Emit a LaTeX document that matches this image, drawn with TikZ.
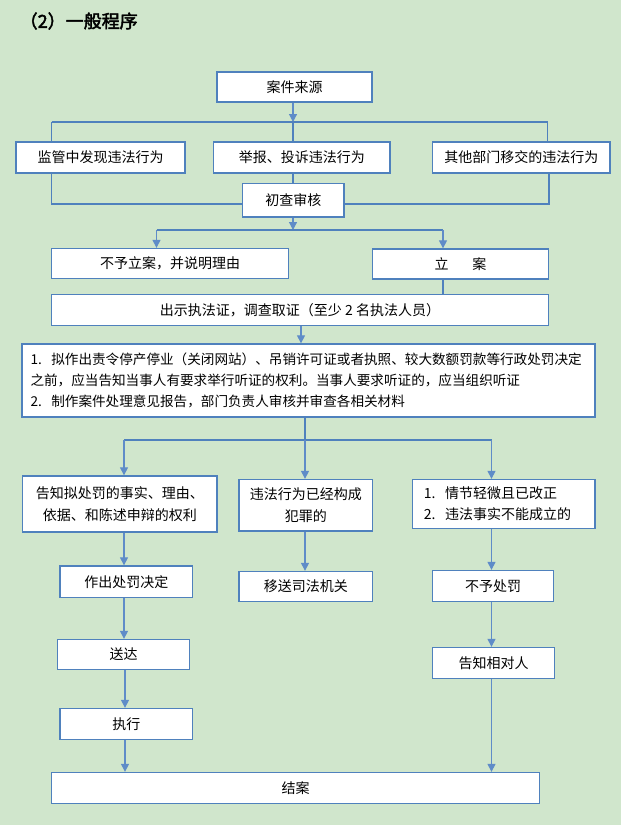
\documentclass[tikz,border=0pt]{standalone}
\usepackage{fontspec}
\setmainfont{Noto Sans CJK SC}
\newfontfamily\titlefont[FakeBold=2.5]{Noto Sans CJK SC}
\usetikzlibrary{arrows.meta}
\definecolor{bg}{RGB}{208,230,204}
\definecolor{bd}{RGB}{79,129,189}
\definecolor{ar}{RGB}{95,140,200}
% \bx[options]{name}{x1}{y1}{x2}{y2}{text}  (pixel corners of the box)
\newcommand\bx[7][]{%
  \pgfmathsetmacro\bxw{(#5-#3)*0.75}%
  \pgfmathsetmacro\bxh{(#6-#4)*0.75}%
  \pgfmathsetmacro\bxx{(#3+#5)/2}%
  \pgfmathsetmacro\bxy{(#4+#6)/2}%
  \node[box, minimum width=\bxw pt, minimum height=\bxh pt, #1] (#2) at (\bxx,\bxy) {#7};}
\begin{document}
\begin{tikzpicture}[x=0.75pt,y=-0.75pt,
  box/.style={draw=bd, line width=1pt, fill=white, inner sep=0pt, anchor=center,
    font=\fontsize{10.5}{16}\selectfont},
  conn/.style={draw=bd, line width=0.9pt},
  arr/.style={draw=ar, line width=0.9pt, -{Triangle[width=6pt,length=6pt]}}]
\fill[bg] (0,0) rectangle (621,825);
\useasboundingbox (0,0) rectangle (621,825);

\node[anchor=west, font=\titlefont\fontsize{13.5}{15}\selectfont] (title) at (15,21) {（2）一般程序};

% boxes
\bx{src}{217}{72}{372}{102}{案件来源}
\bx{a1}{16}{142}{185}{173}{监管中发现违法行为}
\bx{a2}{213.5}{142}{390}{173}{举报、投诉违法行为}
\bx{a3}{432.5}{142}{610}{173}{其他部门移交的违法行为}
\bx{chk}{242.5}{183.5}{344}{217}{初查审核}
\bx{b1}{51.5}{248.5}{288.5}{278.5}{不予立案，并说明理由}
\bx{b2}{372.5}{249}{548.5}{279}{立\hspace{1.7em}案}
\bx{c}{51.5}{294.5}{548.5}{325.5}{出示执法证，调查取证（至少 2 名执法人员）}
\bx[align=left, text width=417pt, font=\fontsize{10.2}{16}\selectfont]{d}{22}{344}{595}{417}%
  {1.\hspace{0.7em}拟作出责令停产停业（关闭网站）、吊销许可证或者执照、较大数额罚款等行政处罚决定\\
   之前，应当告知当事人有要求举行听证的权利。当事人要求听证的，应当组织听证\\
   2.\hspace{0.7em}制作案件处理意见报告，部门负责人审核并审查各相关材料}
\bx[align=center]{e1}{22.5}{476}{217}{532}{告知拟处罚的事实、理由、\\依据、和陈述申辩的权利}
\bx[align=center]{e2}{239}{479.5}{372.5}{531}{违法行为已经构成\\犯罪的}
\bx[align=left, text width=120pt]{e3}{412.5}{479.5}{595}{528.5}{1.\hspace{0.7em}情节轻微且已改正\\2.\hspace{0.7em}违法事实不能成立的}
\bx{f1}{60}{566}{192.5}{597.5}{作出处罚决定}
\bx{f2}{239}{571.5}{372.5}{601.5}{移送司法机关}
\bx{f3}{432.5}{570.5}{553.5}{601.5}{不予处罚}
\bx{g1}{57.5}{639.5}{189.5}{669.5}{送达}
\bx{g3}{432.5}{647.5}{554.5}{678.5}{告知相对人}
\bx{h1}{60}{708.5}{192.5}{739.5}{执行}
\bx{end}{51.5}{772.5}{539.5}{803.5}{结案}

% junctions
\coordinate (j1) at (293,122);
\coordinate (jl) at (51.5,122);
\coordinate (jr) at (547.5,122);
\coordinate (k1) at (51.5,204);
\coordinate (k3) at (549,204);
\coordinate (j2) at (293,230);
\coordinate (j2l) at (156.5,230);
\coordinate (j2r) at (443,230);
\coordinate (j3) at (305,440);
\coordinate (j3l) at (124,440);
\coordinate (j3r) at (491.5,440);
\coordinate (xl) at (124,0);
\coordinate (xr) at (491.5,0);
\coordinate (xm) at (125,0);

% connectors
\draw[arr] (src.south -| j1) -- (j1);
\draw[conn] (jl) -- (jr);
\draw[conn] (jl) -- (jl |- a1.north);
\draw[conn] (j1) -- (j1 |- a2.north);
\draw[conn] (jr) -- (jr |- a3.north);
\draw[conn] (k1 |- a1.south) -- (k1) -- (k1 -| chk.west);
\draw[conn] (k3 |- a3.south) -- (k3) -- (k3 -| chk.east);
\draw[conn] (j1 |- a2.south) -- (j1 |- chk.north);
\draw[arr] (j2 |- chk.south) -- (j2);
\draw[conn] (j2l) -- (j2r);
\draw[arr] (j2l) -- (j2l |- b1.north);
\draw[arr] (j2r) -- (j2r |- b2.north);
\draw[conn] (j2r |- b2.south) -- (j2r |- c.north);
\draw[arr] ([xshift=0.75pt]c.south) -- ([xshift=0.75pt]c.south |- d.north);
\draw[conn] (j3 |- d.south) -- (j3);
\draw[conn] (j3l) -- (j3r);
\draw[arr] (j3l) -- (j3l |- e1.north);
\draw[arr] (j3) -- (j3 |- e2.north);
\draw[arr] (j3r) -- (j3r |- e3.north);
\draw[arr] (xl |- e1.south) -- (xl |- f1.north);
\draw[arr] (j3 |- e2.south) -- (j3 |- f2.north);
\draw[arr] (xr |- e3.south) -- (xr |- f3.north);
\draw[arr] (xl |- f1.south) -- (xl |- g1.north);
\draw[arr] (xm |- g1.south) -- (xm |- h1.north);
\draw[arr] (xm |- h1.south) -- (xm |- end.north);
\draw[arr] (xr |- f3.south) -- (xr |- g3.north);
\draw[arr] (xr |- g3.south) -- (xr |- end.north);
\end{tikzpicture}
\end{document}
